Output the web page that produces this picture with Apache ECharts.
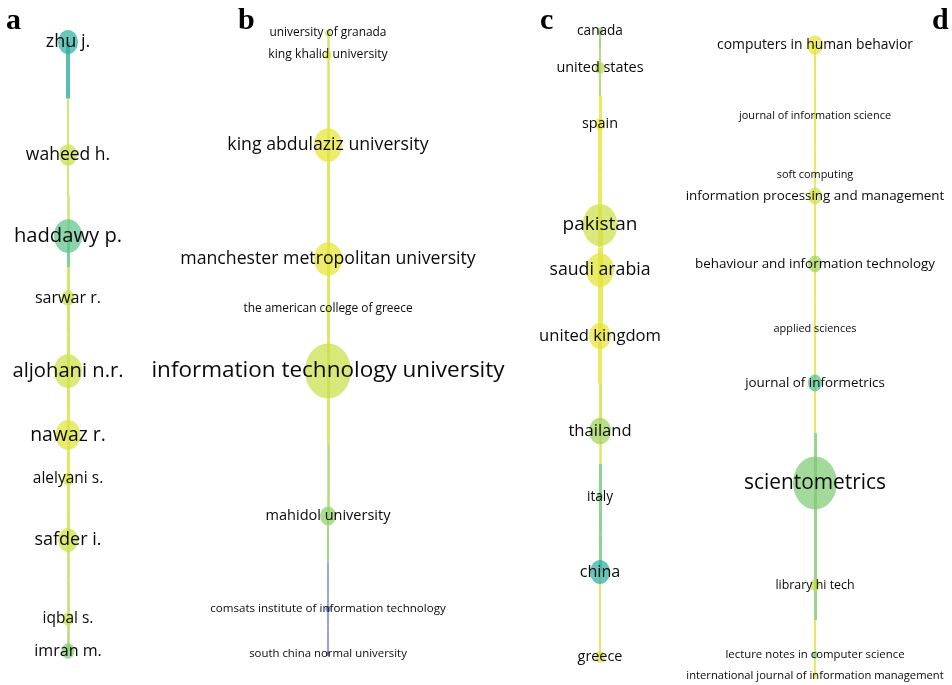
<!DOCTYPE html>
<html>
<head>
<meta charset="utf-8">
<script src="https://cdn.jsdelivr.net/npm/echarts@6/dist/echarts.min.js"></script>
<style>
html, body { margin: 0; padding: 0; background: #fff; }
#main { width: 952px; height: 685px; }
</style>
</head>
<body>
<div id="main"></div>
<script>
// 数据：每一列一个网络 (位置 = 布局坐标, weight = 节点权重, score = 叠加色 0..1)
// a 作者
var authNames  = ['zhu j.', 'waheed h.', 'haddawy p.', 'sarwar r.', 'aljohani n.r.', 'nawaz r.', 'alelyani s.', 'safder i.', 'iqbal s.', 'imran m.'];
var authPos    = [42, 155, 236, 298, 371, 435, 479, 540, 619, 651];
var authWeight = [10, 9, 14, 6.5, 14, 12.5, 5.5, 10, 5.5, 6.5];
var authScore  = [0.2, 0.78, 0.4, 0.78, 0.8, 0.9, 0.9, 0.8, 0.8, 0.5];
// 连线：[上半段score, 上半段粗细, 下半段score, 下半段粗细]
var authLinks  = [[0.2, 4, 0.78, 2], [0.78, 2, 0.75, 2.5], [0.4, 3, 0.78, 3], [0.78, 3, 0.78, 3], [0.8, 3, 0.85, 3],
                  [0.88, 3, 0.88, 3], [0.85, 3, 0.8, 3], [0.7, 2.5, 0.7, 2.5], [0.62, 2.5, 0.6, 2.5]];

// b 机构
var orgNames  = ['university of granada', 'king khalid university', 'king abdulaziz university', 'manchester metropolitan university',
                 'the american college of greece', 'information technology university', 'mahidol university',
                 'comsats institute of information technology', 'south china normal university'];
var orgPos    = [33, 55, 145, 259, 309, 371, 516, 609, 654];
var orgWeight = [3, 3.5, 14, 14, 3, 23, 8, 2.5, 2];
var orgScore  = [0.75, 0.92, 0.95, 0.95, 0.9, 0.78, 0.55, 0.02, 0.0];
var orgLinks  = [[0.75, 2.5, 0.78, 2.5], [0.8, 2.5, 0.8, 2.5], [0.85, 3, 0.85, 3], [0.85, 3, 0.85, 3], [0.82, 3, 0.82, 3],
                 [0.82, 3, 0.6, 2.5], [0.55, 2, 0.05, 1.5], [0.02, 1.5, 0.02, 1.5]];

// c 国家
var ctyNames  = ['canada', 'united states', 'spain', 'pakistan', 'saudi arabia', 'united kingdom', 'thailand', 'italy', 'china', 'greece'];
var ctyPos    = [31, 68, 124, 225, 270, 336, 431, 497, 572, 657];
var ctyWeight = [3, 5, 5, 17.5, 14, 11, 11, 3, 10, 5];
var ctyScore  = [0.55, 0.68, 0.95, 0.8, 0.92, 0.95, 0.6, 0.5, 0.2, 0.85];
var ctyLinks  = [[0.55, 2, 0.6, 2], [0.6, 2, 0.95, 3], [0.95, 4, 0.95, 4], [0.95, 5, 0.95, 5], [0.95, 5, 0.95, 5],
                 [0.95, 4, 0.8, 3], [0.85, 2.5, 0.45, 3], [0.45, 3, 0.45, 3], [0.85, 2, 0.85, 2]];

// d 期刊
var srcNames  = ['computers in human behavior', 'journal of information science', 'soft computing', 'information processing and management',
                 'behaviour and information technology', 'applied sciences', 'journal of informetrics', 'scientometrics',
                 'library hi tech', 'lecture notes in computer science', 'international journal of information management'];
var srcPos    = [45, 116, 175, 196, 264, 329, 383, 483, 585, 655, 676];
var srcWeight = [8, 2, 2, 7, 7, 2, 7, 22, 5, 3, 2.5];
var srcScore  = [0.95, 0.92, 0.88, 0.8, 0.6, 0.92, 0.35, 0.5, 0.75, 0.45, 0.9];
var srcLinks  = [[0.93, 2, 0.93, 2], [0.93, 2, 0.93, 2], [0.93, 2, 0.93, 2], [0.93, 2, 0.93, 2], [0.93, 2, 0.93, 2],
                 [0.93, 2, 0.93, 2], [0.93, 2, 0.5, 3], [0.5, 3, 0.5, 3], [0.5, 3, 0.93, 2], [0.93, 2, 0.93, 2]];

var palette = ['#5a5fc0', '#2cae9f', '#5ec48c', '#9fd25a', '#cfe046', '#ede52c'];

function col(s, a) {
    return echarts.color.modifyAlpha(echarts.color.lerp(s, palette), a);
}

var panels = [
    {names: authNames, pos: authPos, w: authWeight, s: authScore, links: authLinks, cx: 68,  f0: 12.5, f1: 0.55, tag: 'a', tx: 14},
    {names: orgNames,  pos: orgPos,  w: orgWeight,  s: orgScore,  links: orgLinks,  cx: 328, f0: 10.3, f1: 0.53, tag: 'b', tx: 246},
    {names: ctyNames,  pos: ctyPos,  w: ctyWeight,  s: ctyScore,  links: ctyLinks,  cx: 600, f0: 12.5, f1: 0.37, tag: 'c', tx: 548},
    {names: srcNames,  pos: srcPos,  w: srcWeight,  s: srcScore,  links: srcLinks,  cx: 815, f0: 9.9,  f1: 0.5,  tag: 'd', tx: 940}
];

var grids = [], xAxes = [], yAxes = [], series = [], graphics = [];

panels.forEach(function (p, k) {
    grids.push({left: p.cx - 10, width: 20, top: 0, height: 685});
    xAxes.push({type: 'value', gridIndex: k, min: -1, max: 1, show: false});
    yAxes.push({type: 'value', gridIndex: k, min: 0, max: 685, inverse: true, show: false});

    // 连线，按两半分段着色
    var segs = [];
    for (var i = 0; i < p.links.length; i++) {
        var L = p.links[i];
        var y0 = p.pos[i], y1 = p.pos[i + 1], m = (y0 + y1) / 2;
        segs.push({coords: [[0, y0], [0, m]], lineStyle: {color: col(L[0], 0.8), width: L[1], opacity: 1}});
        segs.push({coords: [[0, m], [0, y1]], lineStyle: {color: col(L[2], 0.8), width: L[3], opacity: 1}});
    }
    series.push({
        type: 'lines',
        coordinateSystem: 'cartesian2d',
        xAxisIndex: k, yAxisIndex: k,
        silent: true,
        z: 1,
        lineStyle: {opacity: 1},
        data: segs
    });

    // 节点 + 标签
    series.push({
        type: 'scatter',
        xAxisIndex: k, yAxisIndex: k,
        clip: false,
        z: 2,
        data: p.names.map(function (n, i) {
            var r = p.w[i];
            return {
                name: n,
                value: [0, p.pos[i]],
                symbolSize: [2 * r, 2.4 * r],
                itemStyle: {color: col(p.s[i], 0.9)},
                label: {
                    show: true,
                    position: 'inside',
                    formatter: n,
                    color: '#0a0a0a',
                    textBorderWidth: 0,
                    opacity: 1,
                    fontFamily: 'Open Sans',
                    fontSize: Math.round((p.f0 + p.f1 * r) * 10) / 10
                }
            };
        })
    });

    graphics.push({
        type: 'text',
        left: p.tx - 8, top: 6,
        style: {text: p.tag, font: 'bold 30px "Liberation Serif"', fill: '#000'}
    });
});

var option = {
    animation: false,
    backgroundColor: '#fff',
    grid: grids,
    xAxis: xAxes,
    yAxis: yAxes,
    series: series,
    graphic: graphics
};

var myChart = echarts.init(document.getElementById('main'));
myChart.setOption(option);
</script>
</body>
</html>
